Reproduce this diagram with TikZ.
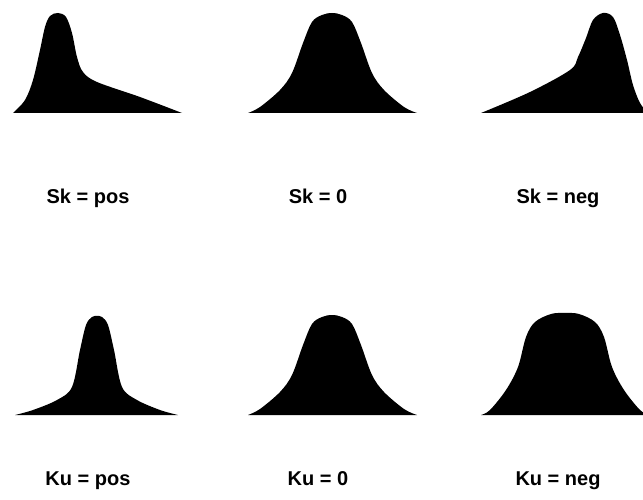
\documentclass[tikz,border=0pt]{standalone}
\usepackage{fontspec}
\setmainfont{Liberation Sans}
\begin{document}
\begin{tikzpicture}[x=1pt,y=-1pt,
  curve/.style={fill=black,draw=none},
  lab/.style={anchor=base,inner sep=0pt,font=\bfseries\fontsize{20}{24}\selectfont}]
\useasboundingbox (0,0) rectangle (643,500);
\clip (0,0) rectangle (643,500);
% positive skew
\fill[curve] plot[smooth,tension=0.55] coordinates {(13,113) (25,100) (33,80) (40,50) (45,27) (50,16) (58,13) (66,17) (72,33) (77,57) (83,72) (97,82) (140,97) (182,113)} -- cycle;
% zero skew
\fill[curve] plot[smooth,tension=0.55] coordinates {(248,113) (260,107) (280,90) (292,73) (303,43) (312,22) (322,15) (332,13) (342,15) (352,22) (361,43) (372,73) (384,90) (404,107) (417,113)} -- cycle;
% negative skew
\fill[curve] plot[smooth,tension=0.55] coordinates {(481,113) (530,92) (570,70) (578,57) (586,38) (593,20) (603,13) (613,17) (620,35) (627,60) (633,85) (640,103) (648,113)} -- cycle;
% positive kurtosis
\fill[curve] plot[smooth,tension=0.55] coordinates {(15,415) (33,410) (57,400) (72,387) (80,350) (86,325) (92,317) (97,316) (102,317) (108,325) (114,350) (122,387) (137,400) (160,410) (178,415)} -- cycle;
% zero kurtosis
\fill[curve] plot[smooth,tension=0.55] coordinates {(248,415) (260,409) (280,392) (292,375) (303,345) (312,324) (322,317) (332,315) (342,317) (352,324) (361,345) (372,375) (384,392) (404,409) (417,415)} -- cycle;
% negative kurtosis
\fill[curve] plot[smooth,tension=0.55] coordinates {(481,415) (490,410) (506,390) (518,367) (526,337) (535,322) (551,314) (565,313) (579,314) (595,322) (604,337) (612,367) (624,390) (640,410) (649,415)} -- cycle;
\node[lab] (sk1) at (88,204) {Sk = pos};
\node[lab] (sk2) at (318,204) {Sk = 0};
\node[lab] (sk3) at (558,204) {Sk = neg};
\node[lab] (ku1) at (88,485) {Ku = pos};
\node[lab] (ku2) at (318,485) {Ku = 0};
\node[lab] (ku3) at (558,485) {Ku = neg};
\end{tikzpicture}
\end{document}
